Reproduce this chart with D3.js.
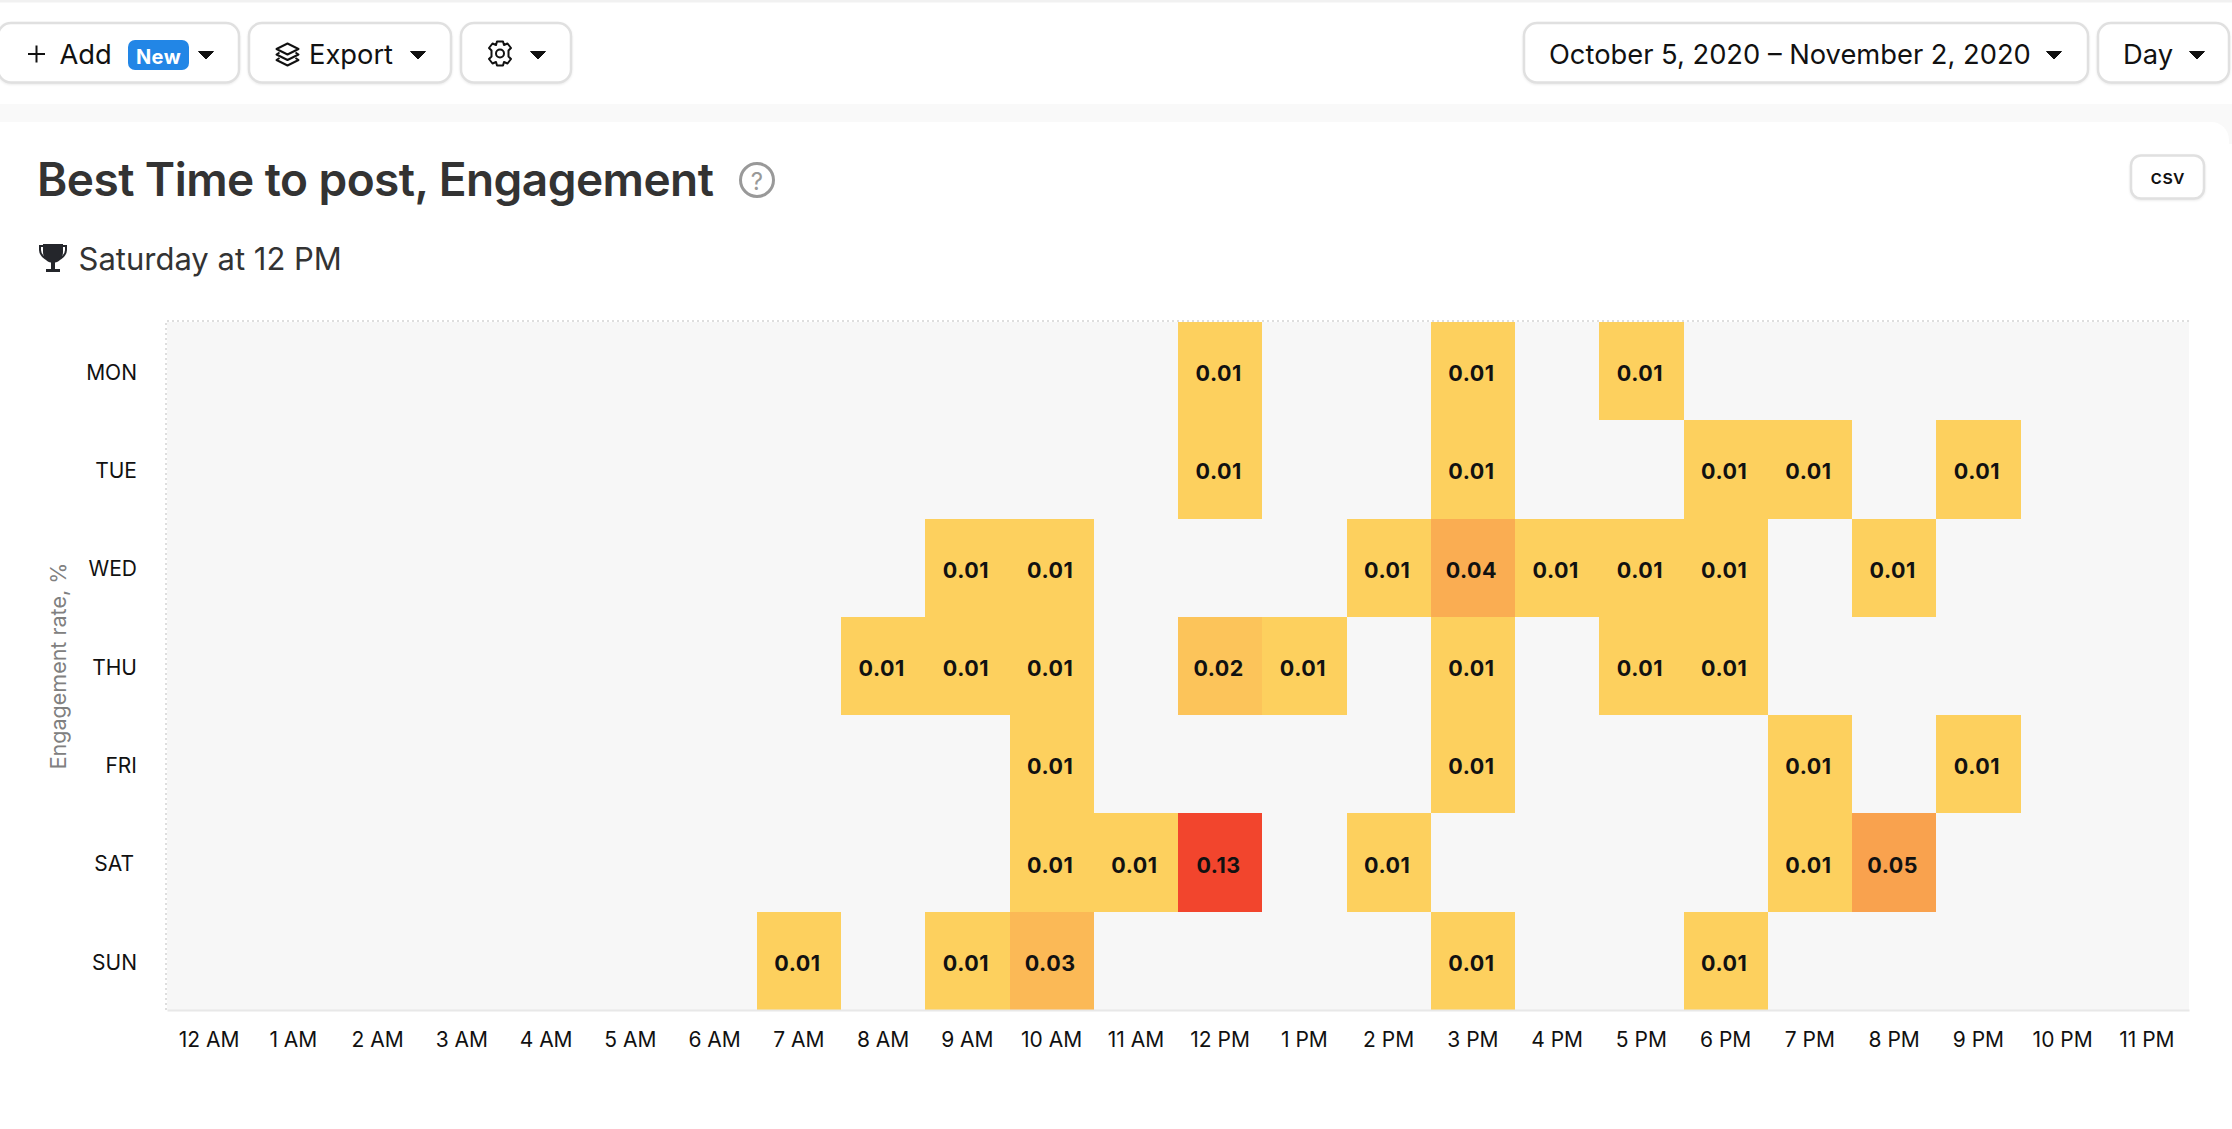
<!DOCTYPE html>
<html>
<head>
<meta charset="utf-8">
<script src="https://cdn.jsdelivr.net/npm/d3@7"></script>
<style>
    html, body { margin: 0; padding: 0; background: #fff; overflow: hidden; }
    svg { display: block; font-family: Inter, "Noto Sans", sans-serif; }
    .btn { fill: #fff; stroke: #e0e0e0; stroke-width: 2.5px; }
    .btn-label { font-size: 27.3px; fill: #111; dominant-baseline: central; }
    .tick text { font-family: Inter, sans-serif; fill: #111; }
</style>
</head>
<body>
<svg id="chart" width="2232" height="1129"></svg>
<script>
    const days = ["MON", "TUE", "WED", "THU", "FRI", "SAT", "SUN"];
    const hours = ["12 AM", "1 AM", "2 AM", "3 AM", "4 AM", "5 AM", "6 AM", "7 AM", "8 AM", "9 AM", "10 AM", "11 AM",
        "12 PM", "1 PM", "2 PM", "3 PM", "4 PM", "5 PM", "6 PM", "7 PM", "8 PM", "9 PM", "10 PM", "11 PM"];

    // Engagement by day, keyed by hour index
    const engagement = {
        MON: { 12: 0.01, 15: 0.01, 17: 0.01 },
        TUE: { 12: 0.01, 15: 0.01, 18: 0.01, 19: 0.01, 21: 0.01 },
        WED: { 9: 0.01, 10: 0.01, 14: 0.01, 15: 0.04, 16: 0.01, 17: 0.01, 18: 0.01, 20: 0.01 },
        THU: { 8: 0.01, 9: 0.01, 10: 0.01, 12: 0.02, 13: 0.01, 15: 0.01, 17: 0.01, 18: 0.01 },
        FRI: { 10: 0.01, 15: 0.01, 19: 0.01, 21: 0.01 },
        SAT: { 10: 0.01, 11: 0.01, 12: 0.13, 14: 0.01, 19: 0.01, 20: 0.05 },
        SUN: { 7: 0.01, 9: 0.01, 10: 0.03, 15: 0.01, 18: 0.01 },
    };

    const data = [];
    days.forEach((day) => {
        Object.keys(engagement[day]).forEach((h) => {
            data.push({ day: day, hour: hours[+h], value: engagement[day][h] });
        });
    });

    const svg = d3.select("#chart");

    // Page chrome
    svg.append("rect").attr("width", 2232).attr("height", 2.5).attr("fill", "#f1f1f1");
    svg.append("rect").attr("y", 104).attr("width", 2232).attr("height", 40).attr("fill", "#f9f9f9");
    svg.append("rect").attr("x", -20).attr("y", 122).attr("width", 2249).attr("height", 1100).attr("rx", 18).attr("fill", "#fff");

    // Toolbar buttons
    const buttons = [
        { x: -2, w: 241 }, { x: 249, w: 202 }, { x: 461, w: 110 },
        { x: 1524, w: 564 }, { x: 2098, w: 131 },
    ];
    svg.selectAll(".btn")
        .data(buttons)
        .enter()
        .append("rect")
        .attr("class", "btn")
        .attr("x", (d) => d.x)
        .attr("y", 23)
        .attr("width", (d) => d.w)
        .attr("height", 59.5)
        .attr("rx", 13)
        .style("filter", "drop-shadow(0 1px 1px rgba(0,0,0,0.08))");

    const labels = [
        { x: 59.5, t: "Add" }, { x: 309, t: "Export" },
        { x: 1549, t: "October 5, 2020 – November 2, 2020" }, { x: 2123, t: "Day" },
    ];
    svg.selectAll(".btn-label")
        .data(labels)
        .enter()
        .append("text")
        .attr("class", "btn-label")
        .attr("x", (d) => d.x)
        .attr("y", 54)
        .text((d) => d.t);

    // Dropdown carets
    const carets = [206, 418, 538, 2054, 2197];
    svg.selectAll(".caret")
        .data(carets)
        .enter()
        .append("path")
        .attr("class", "caret")
        .attr("transform", (d) => `translate(${d},55)`)
        .attr("d", "M-7.5,-3.5H7.5L0,4Z")
        .attr("stroke", "#111")
        .attr("stroke-width", 1)
        .attr("stroke-linejoin", "round")
        .attr("fill", "#111");

    // New badge
    svg.append("rect").attr("x", 128).attr("y", 40).attr("width", 61).attr("height", 30).attr("rx", 7).attr("fill", "#2286e6");
    svg.append("text").attr("x", 158.5).attr("y", 56.5).attr("text-anchor", "middle")
        .attr("dominant-baseline", "central").attr("font-size", 20).attr("font-weight", 700)
        .attr("letter-spacing", 0.4).attr("fill", "#fff").text("New");

    // Plus icon
    svg.append("path").attr("d", "M36.5,45.5V62.5M28,54H45").attr("stroke", "#111").attr("stroke-width", 2).attr("fill", "none");

    // Layers icon
    svg.append("g").attr("transform", "translate(287.5,54.5)")
        .attr("fill", "none").attr("stroke", "#111").attr("stroke-width", 2).attr("stroke-linejoin", "round")
        .append("path")
        .attr("d", "M0,-11L11,-5.5L0,0L-11,-5.5ZM-8,-2L-11,0L0,5.5L11,0L8,-2M-8,3.5L-11,5.5L0,11L11,5.5L8,3.5");

    // Gear icon
    const gear = svg.append("g").attr("transform", "translate(500,53.5)")
        .attr("fill", "none").attr("stroke", "#111").attr("stroke-width", 2);
    gear.append("circle").attr("r", 4);
    gear.append("path").attr("stroke-linejoin", "round")
        .attr("d", "M-3,-12H3L4,-8.5L7.5,-10L11,-5.5L8.5,-3V3L11,5.5L7.5,10L4,8.5L3,12H-3L-4,8.5L-7.5,10L-11,5.5L-8.5,3V-3L-11,-5.5L-7.5,-10L-4,-8.5Z");

    // Title
    svg.append("text").attr("x", 37).attr("y", 196).attr("font-size", 46).attr("font-weight", 600)
        .attr("letter-spacing", -0.55).attr("fill", "#333").text("Best Time to post, Engagement");

    // Help icon
    svg.append("circle").attr("cx", 757).attr("cy", 180).attr("r", 16.5)
        .attr("fill", "none").attr("stroke", "#999").attr("stroke-width", 3);
    svg.append("text").attr("x", 757).attr("y", 181).attr("text-anchor", "middle").attr("dominant-baseline", "central")
        .attr("font-size", 24).attr("fill", "#999").text("?");

    // Trophy icon and best time
    const trophy = svg.append("g").attr("transform", "translate(53,244)");
    trophy.append("path").attr("fill", "#24262b")
        .attr("d", "M-10,0H10V8C10,14 6,18 2,18.5V25H7V28H-7V25H-2V18.5C-6,18 -10,14 -10,8Z");
    trophy.append("path").attr("fill", "none").attr("stroke", "#24262b").attr("stroke-width", 2)
        .attr("d", "M-10,2H-13V6C-13,10 -10,13 -7,15M10,2H13V6C13,10 10,13 7,15");
    svg.append("text").attr("x", 78.5).attr("y", 270).attr("font-size", 31).attr("fill", "#333").text("Saturday at 12 PM");

    // Heatmap
    const x = d3.scaleBand().domain(hours).range([167, 2189]);
    const y = d3.scaleBand().domain(days).range([322, 1010]);
    const color = d3.scaleLinear().domain([0.01, 0.13]).range(["#fdd05e", "#f2452d"]);

    svg.append("rect")
        .attr("x", 167).attr("y", 322).attr("width", 2022).attr("height", 688)
        .attr("fill", "#f7f7f7");

    // Dotted guide lines on the top and left
    svg.append("path")
        .attr("d", d3.line()([[166, 1010], [166, 321], [2189, 321]]))
        .attr("fill", "none")
        .attr("stroke", "#dedede")
        .attr("stroke-width", 2)
        .attr("stroke-dasharray", "2,3");

    svg.selectAll(".cell")
        .data(data)
        .enter()
        .append("rect")
        .attr("class", "cell")
        .attr("x", (d) => x(d.hour))
        .attr("y", (d) => y(d.day))
        .attr("width", x.bandwidth())
        .attr("height", y.bandwidth())
        .attr("shape-rendering", "crispEdges")
        .attr("fill", (d) => color(d.value));

    svg.selectAll(".cell-label")
        .data(data)
        .enter()
        .append("text")
        .attr("class", "cell-label")
        .attr("x", (d) => x(d.hour) + x.bandwidth() / 2 - 1.5)
        .attr("y", (d) => y(d.day) + y.bandwidth() / 2 + 2)
        .attr("text-anchor", "middle")
        .attr("dominant-baseline", "central")
        .attr("font-size", 21.5)
        .attr("font-weight", 700)
        .attr("letter-spacing", 0.5)
        .attr("fill", "#111")
        .text((d) => d.value.toFixed(2));

    // Axes
    const xAxis = svg.append("g")
        .attr("transform", "translate(0,1010)")
        .call(d3.axisBottom(x).tickSize(0).tickPadding(22));
    xAxis.selectAll("text").attr("font-size", 21);
    xAxis.select(".domain").attr("stroke", "#e8e8e8").attr("stroke-width", 2);

    const yAxis = svg.append("g")
        .attr("transform", "translate(167,2)")
        .call(d3.axisLeft(y).tickSize(0).tickPadding(30));
    yAxis.selectAll("text")
        .attr("font-size", 21)
        .attr("dx", (d) => (d === "SAT" ? -3 : 0));
    yAxis.select(".domain").remove();

    svg.append("text")
        .attr("transform", "translate(58,666) rotate(-90)")
        .attr("text-anchor", "middle")
        .attr("dominant-baseline", "central")
        .attr("font-size", 21.5)
        .attr("fill", "#808080")
        .text("Engagement rate, %");

    // CSV button
    svg.append("rect").attr("class", "btn").attr("x", 2131).attr("y", 155.5).attr("width", 73).attr("height", 43).attr("rx", 10)
        .style("filter", "drop-shadow(0 1px 1px rgba(0,0,0,0.08))");
    svg.append("text").attr("x", 2167.5).attr("y", 177).attr("text-anchor", "middle").attr("dominant-baseline", "central")
        .attr("font-size", 20).attr("font-weight", 500).attr("fill", "#111").text("csv");
</script>
</body>
</html>
